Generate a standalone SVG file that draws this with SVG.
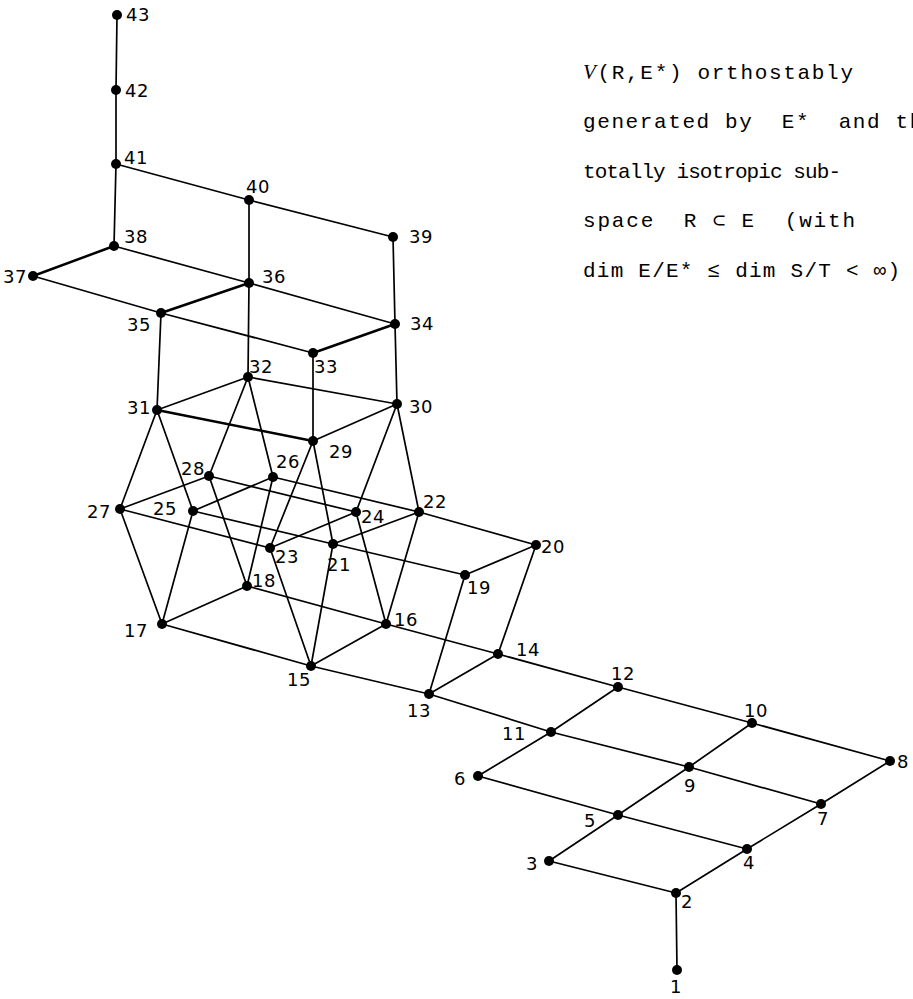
<svg xmlns="http://www.w3.org/2000/svg" width="913" height="999" viewBox="0 0 913 999">
<style>
.e{stroke:#000;stroke-width:1.7;fill:none;stroke-linecap:round}
.k{stroke-width:2.5}
.n circle{fill:#000}
.l{font-family:"DejaVu Sans","Liberation Sans",sans-serif;font-size:18px;letter-spacing:0.6px;fill:#000}
.t{font-family:"Liberation Mono","DejaVu Sans Mono",monospace;font-size:21px;fill:#000;white-space:pre}
</style>
<rect width="913" height="999" fill="#fff"/>
<g id="connectors">
<line class="e" x1="677" y1="970" x2="676" y2="893"/>
<line class="e" x1="676" y1="893" x2="549" y2="861"/>
<line class="e" x1="676" y1="893" x2="747" y2="849"/>
<line class="e" x1="549" y1="861" x2="618" y2="815"/>
<line class="e" x1="747" y1="849" x2="618" y2="815"/>
<line class="e" x1="747" y1="849" x2="821" y2="804"/>
<line class="e" x1="618" y1="815" x2="478" y2="776"/>
<line class="e" x1="618" y1="815" x2="689" y2="767"/>
<line class="e" x1="478" y1="776" x2="551" y2="732"/>
<line class="e" x1="821" y1="804" x2="689" y2="767"/>
<line class="e" x1="821" y1="804" x2="890" y2="761"/>
<line class="e" x1="890" y1="761" x2="752" y2="723"/>
<line class="e" x1="689" y1="767" x2="752" y2="723"/>
<line class="e" x1="689" y1="767" x2="551" y2="732"/>
<line class="e" x1="752" y1="723" x2="618" y2="687"/>
<line class="e" x1="551" y1="732" x2="618" y2="687"/>
<line class="e" x1="551" y1="732" x2="429" y2="694"/>
<line class="e" x1="618" y1="687" x2="498" y2="654"/>
<line class="e" x1="429" y1="694" x2="498" y2="654"/>
<line class="e" x1="429" y1="694" x2="311" y2="666"/>
<line class="e" x1="429" y1="694" x2="465" y2="575"/>
<line class="e" x1="498" y1="654" x2="386" y2="624"/>
<line class="e" x1="498" y1="654" x2="536" y2="545"/>
<line class="e" x1="311" y1="666" x2="386" y2="624"/>
<line class="e" x1="311" y1="666" x2="162" y2="624"/>
<line class="e" x1="311" y1="666" x2="333" y2="544"/>
<line class="e" x1="311" y1="666" x2="270" y2="548"/>
<line class="e" x1="386" y1="624" x2="247" y2="586"/>
<line class="e" x1="386" y1="624" x2="419" y2="512"/>
<line class="e" x1="386" y1="624" x2="356" y2="512"/>
<line class="e" x1="162" y1="624" x2="247" y2="586"/>
<line class="e" x1="162" y1="624" x2="193" y2="511"/>
<line class="e" x1="162" y1="624" x2="120" y2="509"/>
<line class="e" x1="247" y1="586" x2="273" y2="477"/>
<line class="e" x1="247" y1="586" x2="209" y2="476"/>
<line class="e" x1="465" y1="575" x2="536" y2="545"/>
<line class="e" x1="465" y1="575" x2="333" y2="544"/>
<line class="e" x1="536" y1="545" x2="419" y2="512"/>
<line class="e" x1="333" y1="544" x2="419" y2="512"/>
<line class="e" x1="333" y1="544" x2="193" y2="511"/>
<line class="e" x1="333" y1="544" x2="313" y2="441"/>
<line class="e" x1="419" y1="512" x2="273" y2="477"/>
<line class="e" x1="419" y1="512" x2="397" y2="404"/>
<line class="e" x1="270" y1="548" x2="356" y2="512"/>
<line class="e" x1="270" y1="548" x2="120" y2="509"/>
<line class="e" x1="270" y1="548" x2="313" y2="441"/>
<line class="e" x1="356" y1="512" x2="209" y2="476"/>
<line class="e" x1="356" y1="512" x2="397" y2="404"/>
<line class="e" x1="193" y1="511" x2="273" y2="477"/>
<line class="e" x1="193" y1="511" x2="157" y2="410"/>
<line class="e" x1="273" y1="477" x2="248" y2="377"/>
<line class="e" x1="120" y1="509" x2="209" y2="476"/>
<line class="e" x1="120" y1="509" x2="157" y2="410"/>
<line class="e" x1="209" y1="476" x2="248" y2="377"/>
<line class="e" x1="313" y1="441" x2="397" y2="404"/>
<line class="e k" x1="313" y1="441" x2="157" y2="410"/>
<line class="e" x1="313" y1="441" x2="313" y2="353"/>
<line class="e" x1="397" y1="404" x2="248" y2="377"/>
<line class="e" x1="397" y1="404" x2="395" y2="324"/>
<line class="e" x1="157" y1="410" x2="248" y2="377"/>
<line class="e" x1="157" y1="410" x2="161" y2="313"/>
<line class="e" x1="248" y1="377" x2="249" y2="283"/>
<line class="e k" x1="313" y1="353" x2="395" y2="324"/>
<line class="e" x1="313" y1="353" x2="161" y2="313"/>
<line class="e" x1="395" y1="324" x2="249" y2="283"/>
<line class="e" x1="395" y1="324" x2="393" y2="237"/>
<line class="e k" x1="161" y1="313" x2="249" y2="283"/>
<line class="e" x1="161" y1="313" x2="33" y2="276"/>
<line class="e" x1="249" y1="283" x2="114" y2="246"/>
<line class="e" x1="249" y1="283" x2="249" y2="200"/>
<line class="e k" x1="33" y1="276" x2="114" y2="246"/>
<line class="e" x1="114" y1="246" x2="116" y2="164"/>
<line class="e" x1="393" y1="237" x2="249" y2="200"/>
<line class="e" x1="249" y1="200" x2="116" y2="164"/>
<line class="e" x1="116" y1="164" x2="116" y2="90"/>
<line class="e" x1="116" y1="90" x2="117" y2="15"/>
</g>
<g class="n" id="n1"><circle cx="677" cy="970" r="5"/><text class="l" x="670" y="993">1</text></g>
<g class="n" id="n2"><circle cx="676" cy="893" r="5"/><text class="l" x="681" y="908">2</text></g>
<g class="n" id="n3"><circle cx="549" cy="861" r="5"/><text class="l" x="526" y="870">3</text></g>
<g class="n" id="n4"><circle cx="747" cy="849" r="5"/><text class="l" x="743" y="869">4</text></g>
<g class="n" id="n5"><circle cx="618" cy="815" r="5"/><text class="l" x="584" y="827">5</text></g>
<g class="n" id="n6"><circle cx="478" cy="776" r="5"/><text class="l" x="454" y="785">6</text></g>
<g class="n" id="n7"><circle cx="821" cy="804" r="5"/><text class="l" x="817" y="825">7</text></g>
<g class="n" id="n8"><circle cx="890" cy="761" r="5"/><text class="l" x="897" y="768">8</text></g>
<g class="n" id="n9"><circle cx="689" cy="767" r="5"/><text class="l" x="684" y="792">9</text></g>
<g class="n" id="n10"><circle cx="752" cy="723" r="5"/><text class="l" x="744" y="717">10</text></g>
<g class="n" id="n11"><circle cx="551" cy="732" r="5"/><text class="l" x="502" y="740">11</text></g>
<g class="n" id="n12"><circle cx="618" cy="687" r="5"/><text class="l" x="611" y="680">12</text></g>
<g class="n" id="n13"><circle cx="429" cy="694" r="5"/><text class="l" x="407" y="717">13</text></g>
<g class="n" id="n14"><circle cx="498" cy="654" r="5"/><text class="l" x="516" y="656">14</text></g>
<g class="n" id="n15"><circle cx="311" cy="666" r="5"/><text class="l" x="287" y="686">15</text></g>
<g class="n" id="n16"><circle cx="386" cy="624" r="5"/><text class="l" x="394" y="626">16</text></g>
<g class="n" id="n17"><circle cx="162" cy="624" r="5"/><text class="l" x="124" y="637">17</text></g>
<g class="n" id="n18"><circle cx="247" cy="586" r="5"/><text class="l" x="252" y="587">18</text></g>
<g class="n" id="n19"><circle cx="465" cy="575" r="5"/><text class="l" x="467" y="594">19</text></g>
<g class="n" id="n20"><circle cx="536" cy="545" r="5"/><text class="l" x="541" y="553">20</text></g>
<g class="n" id="n21"><circle cx="333" cy="544" r="5"/><text class="l" x="327" y="571">21</text></g>
<g class="n" id="n22"><circle cx="419" cy="512" r="5"/><text class="l" x="423" y="508">22</text></g>
<g class="n" id="n23"><circle cx="270" cy="548" r="5"/><text class="l" x="275" y="563">23</text></g>
<g class="n" id="n24"><circle cx="356" cy="512" r="5"/><text class="l" x="361" y="523">24</text></g>
<g class="n" id="n25"><circle cx="193" cy="511" r="5"/><text class="l" x="153" y="515">25</text></g>
<g class="n" id="n26"><circle cx="273" cy="477" r="5"/><text class="l" x="276" y="468">26</text></g>
<g class="n" id="n27"><circle cx="120" cy="509" r="5"/><text class="l" x="87" y="518">27</text></g>
<g class="n" id="n28"><circle cx="209" cy="476" r="5"/><text class="l" x="181" y="475">28</text></g>
<g class="n" id="n29"><circle cx="313" cy="441" r="5"/><text class="l" x="329" y="458">29</text></g>
<g class="n" id="n30"><circle cx="397" cy="404" r="5"/><text class="l" x="409" y="413">30</text></g>
<g class="n" id="n31"><circle cx="157" cy="410" r="5"/><text class="l" x="127" y="414">31</text></g>
<g class="n" id="n32"><circle cx="248" cy="377" r="5"/><text class="l" x="249" y="373">32</text></g>
<g class="n" id="n33"><circle cx="313" cy="353" r="5"/><text class="l" x="314" y="373">33</text></g>
<g class="n" id="n34"><circle cx="395" cy="324" r="5"/><text class="l" x="410" y="330">34</text></g>
<g class="n" id="n35"><circle cx="161" cy="313" r="5"/><text class="l" x="127" y="331">35</text></g>
<g class="n" id="n36"><circle cx="249" cy="283" r="5"/><text class="l" x="262" y="283">36</text></g>
<g class="n" id="n37"><circle cx="33" cy="276" r="5"/><text class="l" x="3" y="283">37</text></g>
<g class="n" id="n38"><circle cx="114" cy="246" r="5"/><text class="l" x="124" y="243">38</text></g>
<g class="n" id="n39"><circle cx="393" cy="237" r="5"/><text class="l" x="409" y="243">39</text></g>
<g class="n" id="n40"><circle cx="249" cy="200" r="5"/><text class="l" x="246" y="193">40</text></g>
<g class="n" id="n41"><circle cx="116" cy="164" r="5"/><text class="l" x="124" y="164">41</text></g>
<g class="n" id="n42"><circle cx="116" cy="90" r="5"/><text class="l" x="125" y="97">42</text></g>
<g class="n" id="n43"><circle cx="117" cy="15" r="5"/><text class="l" x="126" y="21">43</text></g>
<g id="caption">
<text class="t" x="583" y="79" textLength="270" lengthAdjust="spacing"><tspan font-family="Liberation Serif" font-style="italic">V</tspan>(R,E*) orthostably</text>
<text class="t" x="583" y="128" letter-spacing="1.6">generated by  E*  and th</text>
<text class="t" x="583" y="178" textLength="258" lengthAdjust="spacing">totally isotropic sub-</text>
<text class="t" x="583" y="227" textLength="272" lengthAdjust="spacing">space  R ⊂ E  (with</text>
<text class="t" x="583" y="277" textLength="317" lengthAdjust="spacing">dim E/E* ≤ dim S/T &lt; ∞)</text>
</g>
</svg>
